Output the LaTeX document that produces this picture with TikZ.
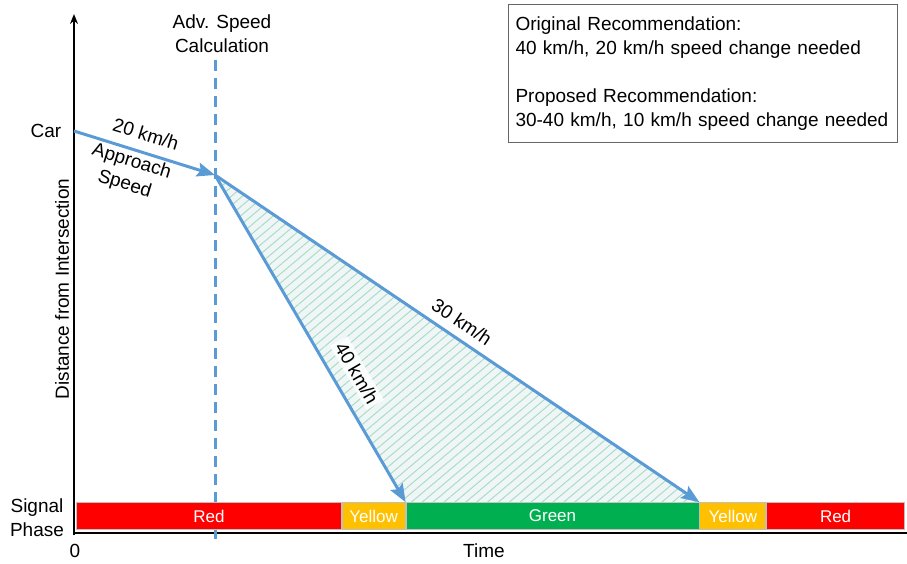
\documentclass[tikz,border=0pt]{standalone}
\usepackage{fontspec}
\setmainfont{Liberation Sans}
\usepackage{tikz}
\usetikzlibrary{arrows.meta,positioning,patterns.meta}

\definecolor{linblue}{HTML}{5B9BD5}
\definecolor{sigred}{HTML}{FF0000}
\definecolor{sigyellow}{HTML}{FFC000}
\definecolor{siggreen}{HTML}{00B050}
\definecolor{hatchgreen}{HTML}{A8DEC0}
\definecolor{hatchbg}{HTML}{F0F6F8}

\begin{document}
\begin{tikzpicture}[x=1pt,y=-1pt,>={Stealth[length=18pt,width=14pt,inset=3pt]},
  every node/.style={font=\fontsize{19}{24}\selectfont}]
\tikzstyle{phase} = [draw={rgb:black,1;white,3}, line width=0.8pt, minimum height=27pt, inner sep=0pt,
  text=white, font=\fontsize{17}{20}\selectfont, node distance=0pt]
\tikzstyle{speed} = [linblue, line width=3pt]
\useasboundingbox (0,0) rectangle (907,564);

    % axes
    \coordinate (origin) at (74,535);
    \coordinate (ytop) at (74,14);
    \coordinate (xend) at (907,533);
    \draw[line width=1.5pt, -{Stealth[length=10pt,width=8pt]}] (origin) -- (ytop);
    \draw[line width=1.8pt] (74,533) -- (xend);

    % calculation instant
    \coordinate (car0) at (74,131);
    \coordinate (calc) at (215,175);
    \coordinate (dtop) at (215,60);
    \coordinate (dbot) at (215,541);
    \draw[linblue, line width=3pt, dash pattern=on 11pt off 7pt] (dtop) -- (dbot);

    % signal phases
    \node[phase, fill=sigred, minimum width=265pt, anchor=south west] (r1) at (76,530) {Red};
    \node[phase, fill=sigyellow, minimum width=63pt] (y1) [right=of r1] {Yellow};
    \node[phase, fill=siggreen, minimum width=293pt] (g1) [right=of y1] {Green};
    \node[phase, fill=sigyellow, minimum width=66pt] (y2) [right=of g1] {Yellow};
    \node[phase, fill=sigred, minimum width=138pt] (r2) [right=of y2] {Red};

    % feasible region
    \fill[hatchbg] (calc) -- (g1.north west) -- (g1.north east) -- cycle;
    \fill[pattern={Lines[angle=40,distance=7pt,line width=1pt]}, pattern color=hatchgreen]
      (calc) -- (g1.north west) -- (g1.north east) -- cycle;

    \draw[speed, ->] (car0) -- (calc);
    \draw[speed, ->] (calc) -- (g1.north west);
    \draw[speed, ->] (calc) -- (g1.north east);

    % labels
    \node (car) at (46,131) {Car};
    \node[align=center] (sig) at (37,518) {Signal\\Phase};
    \node (zero) at (75,551) {0};
    \node (time) at (484,551) {Time};
    \node[rotate=90] (dist) at (62,289) {Distance from Intersection};
    \node[align=center] (adv) at (222,34) {Adv. Speed\\Calculation};
    \node[rotate=-17] (v20) at (146,134) {20 km/h};
    \node[rotate=-17, align=center] (appr) at (128,173) {Approach\\Speed};
    \node[rotate=-34] (v30) at (462,322) {30 km/h};
    \node[rotate=-60, fill=white, fill opacity=0.85, text opacity=1, inner sep=3pt] (v40) at (357,373) {40 km/h};

    \node[draw={rgb:black,3;white,2}, line width=1pt, anchor=north west, align=left,
      minimum width=389pt, minimum height=138pt, text width=375pt, inner sep=7pt] (rec) at (508,4)
      {Original Recommendation:\\40 km/h, 20 km/h speed change needed\\[24pt]Proposed Recommendation:\\30-40 km/h, 10 km/h speed change needed};
\end{tikzpicture}
\end{document}
